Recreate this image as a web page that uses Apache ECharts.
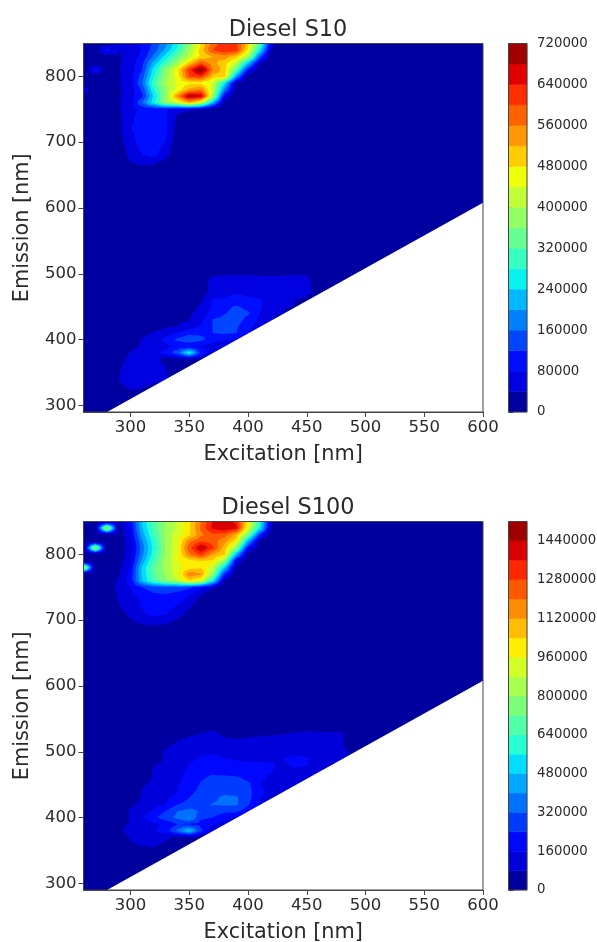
<!DOCTYPE html>
<html><head><meta charset="utf-8">
<style>html,body{margin:0;padding:0;background:#fff}#c{width:597px;height:942px}</style>
<script src="https://cdn.jsdelivr.net/npm/echarts@6/dist/echarts.min.js"></script>
</head><body><div id="c"></div>
<script>
// Excitation grid (nm). Row arrays below start at 260 and step through this list; short rows continue with 0.
const excitation = [260,270,280,290,300,310,320,330,340,350,360,370,380,390,400,410,420,430,440,450,460,470,480,490,500,600];

// Diesel S10, values in thousands
const s10Emission = [850,840,830,820,810,800,790,780,770,760,750,740,730,720,710,700,690,680,670,660,650,510,500,490,480,470,460,450,440,430,420,410,400,390,380,370,360,340,320,300,290];
const s10Rows = [
[10,15,25,40,55,85,130,190,270,370,480,580,620,610,500,330,60],
[15,25,95,40,55,85,140,210,290,390,500,600,640,620,470,260,30],
[10,15,20,35,55,90,170,260,340,420,490,520,540,500,400,150],
[10,12,15,35,60,110,220,310,390,500,600,530,500,420,230,40],
[5,95,15,38,60,120,260,370,470,620,730,560,500,330,100],
[5,5,10,35,65,140,280,380,460,600,620,500,500,200,10],
[5,5,8,35,65,160,310,400,450,470,470,430,260,30],
[70,5,8,35,60,130,280,380,450,530,560,420,180,10],
[3,3,5,35,60,110,250,380,550,700,680,400,80],
[3,3,5,35,60,160,270,380,430,520,430,220,20],
[0,0,3,35,70,85,90,85,60,50,40,5],
[0,0,0,30,75,90,100,85,35,5],
[0,0,0,28,75,95,105,90,25],
[0,0,0,28,78,100,110,90,20],
[0,0,0,25,70,100,110,88,15],
[0,0,0,22,65,95,105,80,8],
[0,0,0,18,55,90,95,65,5],
[0,0,0,15,50,80,90,55],
[0,0,0,5,40,55,50,25],
[0,0,0,0,10,25,20,5],
[],
[],
[0,0,0,0,0,0,0,0,0,0,0,32,35,36,36,35,35,36,37,38,15],
[0,0,0,0,0,0,0,0,0,0,20,55,60,60,58,55,50,50,55,50,15],
[0,0,0,0,0,0,0,0,0,0,20,50,60,62,60,55,50,50,50,48,25,20],
[0,0,0,0,0,0,0,0,0,10,25,55,70,80,72,62,55,50,45,45,35],
[0,0,0,0,0,0,0,0,0,15,35,85,85,95,90,85,65,50,40,35],
[0,0,0,0,0,0,0,0,10,30,45,85,110,125,110,85,60,45,38],
[0,0,0,0,0,0,0,0,20,35,50,100,118,130,125,80,50,40],
[0,0,0,0,0,0,0,15,30,38,70,122,130,135,110,70,45],
[0,0,0,0,0,0,15,35,42,60,85,120,130,125,95,60],
[0,0,0,0,0,25,45,60,85,110,110,120,125,120,85],
[0,0,0,0,25,42,65,90,130,150,130,100,85,80],
[0,0,0,0,30,45,60,70,85,80,75,60,50],
[0,0,0,30,42,60,75,90,150,270,110,60],
[0,0,0,25,50,55,50,25,25,25,20],
[0,0,0,35,55,65,60,40,30,20],
[0,0,0,40,60,65,60,45],
[0,0,0,30,35,30],
[],
[]
];

// Diesel S100, values in thousands
const s100Emission = [850,840,830,820,810,800,790,780,770,760,750,740,730,720,710,700,690,680,560,550,540,530,520,510,500,490,480,470,460,450,440,430,420,410,400,390,380,370,360,350,340,300,290];
const s100Rows = [
[0,10,30,60,200,500,690,810,900,1020,1200,1370,1420,1340,1000,600,100],
[0,40,900,50,170,480,670,810,900,1020,1220,1380,1430,1380,950,560,60],
[0,10,30,40,150,440,650,810,930,1020,1180,1260,1240,1100,760,260],
[0,0,20,40,120,390,610,810,940,1180,1280,1240,1150,1000,450,40],
[0,880,10,45,110,360,590,810,960,1250,1450,1300,1080,800,200],
[0,0,10,45,120,380,610,810,960,1180,1300,1120,1050,460,20],
[0,0,10,50,140,430,660,830,960,1000,1040,1020,800,150],
[900,20,10,60,170,500,710,830,940,1000,1030,900,500,40],
[0,0,20,70,190,500,690,810,940,1180,1130,800,250],
[0,0,40,90,200,480,670,790,880,1030,950,560,60],
[0,0,40,100,160,240,290,300,290,260,190,90],
[0,0,30,90,140,190,230,240,220,170,90,30],
[0,0,20,85,130,170,200,205,190,130,50],
[0,0,10,70,120,165,190,190,150,90,20],
[0,0,0,50,100,150,180,170,120,50],
[0,0,0,30,70,110,130,115,70,20],
[0,0,0,10,35,60,70,55,20],
[],
[],
[],
[0,0,0,0,0,0,0,0,0,0,0,70,0,0,0,0,0,0,0,75],
[0,0,0,0,0,0,0,0,0,60,75,88,60,50,55,60,65,70,78,85,85,85,82],
[0,0,0,0,0,0,0,0,75,90,100,105,85,80,85,90,95,100,105,110,105,95,90],
[0,0,0,0,0,0,0,70,95,105,120,120,105,95,100,105,110,115,120,120,110,100,90,20],
[0,0,0,0,0,0,70,90,105,120,140,150,130,115,115,120,125,125,130,125,115,110,100,60],
[0,0,0,0,0,0,0,95,115,140,170,180,160,155,150,150,150,160,175,170,135,115,95,60],
[0,0,0,0,0,0,85,100,130,165,190,190,180,170,170,170,165,150,170,165,130,110,85],
[0,0,0,0,0,0,90,110,140,170,210,220,210,200,180,170,162,140,150,130,120],
[0,0,0,0,0,0,100,120,150,180,230,260,260,255,220,170,150,130,120,110],
[0,0,0,0,0,70,110,130,155,190,250,270,280,280,260,160,130,110,100],
[0,0,0,0,0,85,120,140,160,220,260,280,290,290,270,180,130,100],
[0,0,0,0,0,100,130,150,170,240,280,300,345,330,270,170,130],
[0,0,0,0,60,110,140,160,240,280,300,325,330,330,250,150],
[0,0,0,0,95,130,170,240,320,340,310,280,260,260,200,170],
[0,0,0,0,85,150,220,290,340,410,260,240,190,160],
[0,0,0,60,90,130,145,170,240,230,210,170,130],
[0,0,0,75,95,120,155,200,340,500,260,100],
[0,0,0,55,85,95,100,90,60,50,45],
[0,0,0,0,75,85,85,75,50,30],
[0,0,0,0,60,70,75,70,30],
[0,0,0,0,0,20],
[],
[]
];

// Tick labels and contour levels
const xTicks = [300,350,400,450,500,550,600];
const yTicks = [300,400,500,600,700,800];
const s10Levels = [0,40,80,120,160,200,240,280,320,360,400,440,480,520,560,600,640,680,720];
const s100Levels = [0,80,160,240,320,400,480,560,640,720,800,880,960,1040,1120,1200,1280,1360,1440,1520];
const s10BarTicks = [0,80000,160000,240000,320000,400000,480000,560000,640000,720000];
const s100BarTicks = [0,160000,320000,480000,640000,800000,960000,1120000,1280000,1440000];
const blankExcitation = [279,600,600];
const blankEmission = [289,608,289];
const frameCorners = [[260,290,600,850]];

function lin(t, pts){
  for (let i=1;i<pts.length;i++) if (t<=pts[i][0]) {
    const a=pts[i-1], b=pts[i]; return a[1]+(b[1]-a[1])*(t-a[0])/(b[0]-a[0]);
  }
  return pts[pts.length-1][1];
}
function jet(t){
  const r=lin(t,[[0,0],[.35,0],[.66,1],[.89,1],[1,.5]]);
  const g=lin(t,[[0,0],[.125,0],[.375,1],[.64,1],[.91,0],[1,0]]);
  const b=lin(t,[[0,.5],[.11,1],[.34,1],[.65,0],[1,0]]);
  return 'rgb('+Math.round(r*255)+','+Math.round(g*255)+','+Math.round(b*255)+')';
}
function bandColors(levels){
  const n=levels.length-1, out=[];
  for(let i=0;i<n;i++) out.push(jet((i+.5)/n));
  return out;
}
// Shape holding many polygons that are filled together, so adjoining pieces leave no seams
echarts.graphic.registerShape('contourBand', echarts.graphic.extendShape({
  shape:{pieces:[]},
  buildPath(ctx, shape){
    for(const p of shape.pieces){
      ctx.moveTo(p[0][0],p[0][1]);
      for(let i=1;i<p.length;i++) ctx.lineTo(p[i][0],p[i][1]);
      ctx.closePath();
    }
  }
}));
function clipAbove(poly, level){
  const out=[];
  for(let i=0;i<poly.length;i++){
    const a=poly[i], b=poly[(i+1)%poly.length];
    const ia=a[2]>=level, ib=b[2]>=level;
    if(ia) out.push(a);
    if(ia!==ib){
      const t=(level-a[2])/(b[2]-a[2]);
      out.push([a[0]+(b[0]-a[0])*t,a[1]+(b[1]-a[1])*t,level]);
    }
  }
  return out;
}
function contourSeries(emission, rows, levels, xi, yi){
  const colors=bandColors(levels);
  const val=(j,i)=>{const v=rows[j][i]; return v===undefined?0:v;};
  return {
    type:'custom', xAxisIndex:xi, yAxisIndex:yi, coordinateSystem:'cartesian2d', silent:true, z:2,
    data:colors.map((c,b)=>[levels[b]]), clip:true, animation:false,
    encode:{y:0},
    renderItem(params, api){
      const level=api.value(0), pieces=[];
      for(let j=0;j<emission.length-1;j++) for(let i=0;i<excitation.length-1;i++){
        const x0=excitation[i], x1=excitation[i+1], y0=emission[j], y1=emission[j+1];
        const c=[[x0,y0,val(j,i)],[x1,y0,val(j,i+1)],[x1,y1,val(j+1,i+1)],[x0,y1,val(j+1,i)]];
        const m=[(x0+x1)/2,(y0+y1)/2,(c[0][2]+c[1][2]+c[2][2]+c[3][2])/4];
        for(let k=0;k<4;k++){
          const p=clipAbove([c[k],c[(k+1)%4],m],level);
          if(p.length>=3) pieces.push(p.map(q=>api.coord([q[0],q[1]])));
        }
      }
      return {type:'contourBand',shape:{pieces},style:{fill:colors[params.dataIndex]}};
    }
  };
}
function blankSeries(xi,yi){
  return {type:'custom',xAxisIndex:xi,yAxisIndex:yi,coordinateSystem:'cartesian2d',silent:true,z:3,clip:true,
    data:[blankExcitation.map((x,k)=>[x,blankEmission[k]]).flat()],
    renderItem(params,api){
      const pts=[0,1,2].map(k=>api.coord([api.value(2*k),api.value(2*k+1)]));
      return {type:'polygon',shape:{points:pts},style:{fill:'#fff'}};
    }};
}
function frameSeries(xi,yi,corners){
  return {type:'custom',xAxisIndex:xi,yAxisIndex:yi,coordinateSystem:'cartesian2d',silent:true,z:5,clip:false,
    data:corners,
    renderItem(params,api){
      const a=api.coord([api.value(0),api.value(1)]), b=api.coord([api.value(2),api.value(3)]);
      return {type:'rect',shape:{x:a[0],y:b[1],width:b[0]-a[0],height:a[1]-b[1]},style:{fill:'none',stroke:'#444',lineWidth:1}};
    }};
}
function barSeries(levels,xi,yi){
  const colors=bandColors(levels);
  return {type:'custom',xAxisIndex:xi,yAxisIndex:yi,coordinateSystem:'cartesian2d',silent:true,z:2,clip:false,
    data:colors.map((c,k)=>[levels[k]*1000,levels[k+1]*1000]),
    renderItem(params,api){
      const a=api.coord([0,api.value(0)]), b=api.coord([1,api.value(1)]);
      return {type:'rect',shape:{x:a[0],y:b[1],width:b[0]-a[0],height:a[1]-b[1]},
        style:{fill:colors[params.dataIndex],stroke:colors[params.dataIndex],lineWidth:0.5}};
    }};
}
const font='"DejaVu Sans"', ink='#2a2a2a';
function mainX(g){return {type:'value',gridIndex:g,min:260,max:600,name:'Excitation [nm]',nameLocation:'middle',nameGap:32,
  nameTextStyle:{fontFamily:font,fontSize:20.8,color:ink},splitLine:{show:false},
  axisLine:{show:true,onZero:false,lineStyle:{color:'#444',width:1}},
  axisTick:{show:true,length:5,customValues:xTicks,lineStyle:{color:'#444'}},
  axisLabel:{fontFamily:font,fontSize:16.5,color:ink,margin:7,customValues:xTicks}};}
function mainY(g){return {type:'value',gridIndex:g,min:290,max:850,name:'Emission [nm]',nameLocation:'middle',nameGap:50,
  nameTextStyle:{fontFamily:font,fontSize:20.8,color:ink},splitLine:{show:false},
  axisLine:{show:true,onZero:false,lineStyle:{color:'#444',width:1}},
  axisTick:{show:true,length:5,customValues:yTicks,lineStyle:{color:'#444'}},
  axisLabel:{fontFamily:font,fontSize:16.5,color:ink,margin:7,customValues:yTicks}};}
function barX(g){return {type:'value',gridIndex:g,min:0,max:1,show:false};}
function barY(g,max,ticks){return {type:'value',gridIndex:g,position:'right',min:0,max:max,splitLine:{show:false},
  axisLine:{show:false},
  axisTick:{show:true,length:5,customValues:ticks,lineStyle:{color:'#444'}},
  axisLabel:{fontFamily:font,fontSize:13.3,color:ink,margin:10,customValues:ticks,formatter:v=>String(v)}};}

const chart=echarts.init(document.getElementById('c'),null,{renderer:'canvas'});
chart.setOption({
  animation:false,
  backgroundColor:'#fff',
  title:[
    {text:'Diesel S10',left:283,top:14,textAlign:'center',textStyle:{fontFamily:font,fontSize:22.4,fontWeight:'normal',color:ink}},
    {text:'Diesel S100',left:283,top:492,textAlign:'center',textStyle:{fontFamily:font,fontSize:22.4,fontWeight:'normal',color:ink}}
  ],
  grid:[
    {left:83.5,top:43.5,width:399.5,height:368.5,outerBoundsMode:'none'},
    {left:508.5,top:43.5,width:18.5,height:368.5,outerBoundsMode:'none'},
    {left:83.5,top:521.5,width:399.5,height:368.5,outerBoundsMode:'none'},
    {left:508.5,top:521.5,width:18.5,height:368.5,outerBoundsMode:'none'}
  ],
  xAxis:[mainX(0),barX(1),mainX(2),barX(3)],
  yAxis:[mainY(0),barY(1,720000,s10BarTicks),mainY(2),barY(3,1520000,s100BarTicks)],
  series:[
    contourSeries(s10Emission,s10Rows,s10Levels,0,0),
    blankSeries(0,0),
    frameSeries(0,0,frameCorners),
    barSeries(s10Levels,1,1),
    frameSeries(1,1,[[0,0,1,720000]]),
    contourSeries(s100Emission,s100Rows,s100Levels,2,2),
    blankSeries(2,2),
    frameSeries(2,2,frameCorners),
    barSeries(s100Levels,3,3),
    frameSeries(3,3,[[0,0,1,1520000]])
  ]
});
</script></body></html>
